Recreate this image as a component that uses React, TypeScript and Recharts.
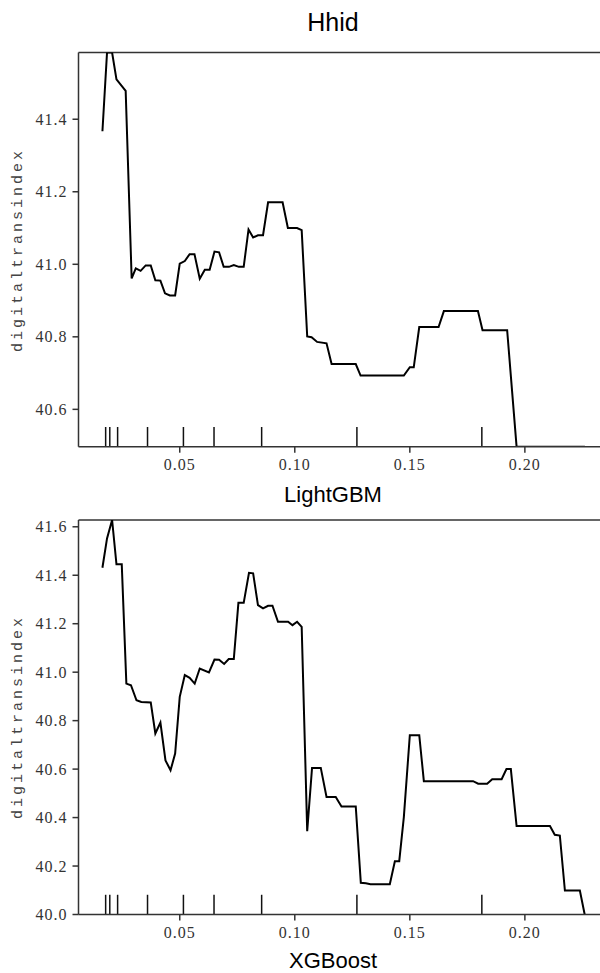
import React from 'react'
import { LineChart, Line, XAxis, YAxis, ReferenceLine } from 'recharts'

// x axis (shared by both panels)
const xTicks = [0.05, 0.1, 0.15, 0.2]
const xDomain = [0.006, 0.237]

// deciles of the feature, drawn as a rug
const deciles = [0.0178, 0.0196, 0.023, 0.036, 0.0516, 0.0649, 0.0856, 0.127, 0.1813]

// LightGBM partial dependence
const lgbmX = [
  0.0164, 0.0184, 0.0206, 0.0225, 0.0265, 0.0291, 0.0309, 0.033, 0.0352, 0.0374,
  0.0394, 0.0416, 0.0436, 0.0457, 0.048, 0.05, 0.0522, 0.0543, 0.0564, 0.0587,
  0.0609, 0.063, 0.0651, 0.0671, 0.0691, 0.0714, 0.0735, 0.0757, 0.0778, 0.0799,
  0.0819, 0.084, 0.0862, 0.0884, 0.0906, 0.0947, 0.097, 0.101, 0.103, 0.1054,
  0.1073, 0.1097, 0.1138, 0.116, 0.1265, 0.1286, 0.1474, 0.15, 0.1517, 0.1541,
  0.1625, 0.1648, 0.1796, 0.1816, 0.1923, 0.1964, 0.2261,
]
const lgbmY = [
  41.367, 41.584, 41.584, 41.51, 41.478, 40.961, 40.989, 40.982, 40.997, 40.997,
  40.956, 40.955, 40.92, 40.914, 40.914, 41.002, 41.009, 41.028, 41.028, 40.96,
  40.985, 40.985, 41.035, 41.033, 40.993, 40.993, 40.998, 40.993, 40.993, 41.096,
  41.074, 41.08, 41.08, 41.171, 41.171, 41.171, 41.1, 41.1, 41.094, 40.801,
  40.799, 40.786, 40.782, 40.725, 40.725, 40.693, 40.693, 40.716, 40.716, 40.827,
  40.827, 40.871, 40.871, 40.818, 40.818, 40.497, 40.497,
]
const lgbmTicks = [40.6, 40.8, 41.0, 41.2, 41.4]
const lgbmDomain = [40.497, 41.584]

// XGBoost partial dependence
const xgbX = [
  0.0164, 0.0184, 0.0206, 0.0225, 0.0248, 0.0268, 0.0288, 0.0312, 0.0333, 0.0374,
  0.0394, 0.0416, 0.0438, 0.046, 0.048, 0.05, 0.0522, 0.0543, 0.0565, 0.0587,
  0.0627, 0.0651, 0.0671, 0.0693, 0.0713, 0.0735, 0.0755, 0.0778, 0.0801, 0.0819,
  0.084, 0.0862, 0.0884, 0.0903, 0.0927, 0.0971, 0.099, 0.101, 0.103, 0.1054,
  0.1075, 0.1113, 0.1138, 0.1178, 0.1203, 0.1265, 0.1287, 0.1309, 0.1329, 0.1413,
  0.1435, 0.1454, 0.1474, 0.15, 0.1541, 0.1561, 0.1775, 0.1797, 0.1836, 0.1858,
  0.1899, 0.192, 0.1939, 0.1964, 0.2109, 0.213, 0.2152, 0.2174, 0.2239, 0.226,
]
const xgbY = [
  41.431, 41.552, 41.628, 41.445, 41.445, 40.953, 40.946, 40.884, 40.877, 40.875,
  40.747, 40.792, 40.636, 40.595, 40.664, 40.898, 40.988, 40.977, 40.953, 41.015,
  40.999, 41.052, 41.051, 41.034, 41.054, 41.054, 41.286, 41.286, 41.41, 41.408,
  41.277, 41.263, 41.274, 41.274, 41.208, 41.208, 41.194, 41.208, 41.187, 40.344,
  40.605, 40.605, 40.485, 40.485, 40.446, 40.446, 40.131, 40.129, 40.125, 40.125,
  40.22, 40.22, 40.402, 40.74, 40.74, 40.55, 40.55, 40.54, 40.54, 40.558,
  40.558, 40.6, 40.6, 40.365, 40.365, 40.329, 40.326, 40.099, 40.099, 40.0,
]
const xgbTicks = [40.0, 40.2, 40.4, 40.6, 40.8, 41.0, 41.2, 41.4, 41.6]
const xgbDomain = [40.0, 41.628]

const tickFont = { fontFamily: 'Liberation Serif', fontSize: 16, fill: '#333', letterSpacing: 1 }
const spine = { stroke: '#333', strokeWidth: 1.5 }

function PdpPanel({ xs, ys, yTicks, yDomain, marginTop, marginBottom }: any) {
  const data = xs.map((x: number, i: number) => ({ x, y: ys[i] }))
  const [lo, hi] = yDomain
  const rugTop = lo + (hi - lo) * 0.05
  return (
    <LineChart
      width={640}
      height={480}
      data={data}
      margin={{ top: marginTop, right: 30, bottom: marginBottom, left: 0 }}
    >
      <XAxis
        type="number"
        dataKey="x"
        domain={xDomain}
        ticks={xTicks}
        allowDataOverflow
        height={30}
        tickSize={6}
        tickMargin={6}
        tickFormatter={(v) => v.toFixed(2)}
        tick={tickFont}
        axisLine={spine}
        tickLine={spine}
      />
      <YAxis
        type="number"
        domain={yDomain}
        ticks={yTicks}
        allowDataOverflow
        width={78.5}
        tickSize={6}
        tickMargin={5}
        tickFormatter={(v) => v.toFixed(1)}
        tick={tickFont}
        axisLine={spine}
        tickLine={spine}
      />
      <ReferenceLine y={hi} stroke="#333" strokeWidth={1.5} />
      {deciles.map((d) => (
        <ReferenceLine
          key={d}
          segment={[{ x: d, y: lo }, { x: d, y: rugTop }]}
          stroke="#111"
          strokeWidth={1.5}
        />
      ))}
      <Line
        type="linear"
        dataKey="y"
        stroke="#000"
        strokeWidth={2}
        dot={false}
        isAnimationActive={false}
      />
    </LineChart>
  )
}

export default function App() {
  const labelFont = { fontFamily: 'Liberation Sans', fill: '#000' }
  const yLabel = { fontFamily: 'Liberation Mono', fontSize: 15, fill: '#444', letterSpacing: 3 }
  return (
    <div style={{ position: 'absolute', left: 0, top: 0, width: 600, height: 973, overflow: 'hidden', background: '#fff' }}>
      <div style={{ position: 'absolute', left: 0, top: 0 }}>
        <PdpPanel xs={lgbmX} ys={lgbmY} yTicks={lgbmTicks} yDomain={lgbmDomain} marginTop={52.5} marginBottom={3.3} />
      </div>
      <div style={{ position: 'absolute', left: 0, top: 480 }}>
        <PdpPanel xs={xgbX} ys={xgbY} yTicks={xgbTicks} yDomain={xgbDomain} marginTop={40} marginBottom={15.5} />
      </div>
      <svg width={600} height={973} style={{ position: 'absolute', left: 0, top: 0, pointerEvents: 'none' }}>
        <text x={333} y={31} textAnchor="middle" fontSize={25} {...labelFont}>Hhid</text>
        <text x={333} y={502} textAnchor="middle" fontSize={22} {...labelFont}>LightGBM</text>
        <text x={333} y={968} textAnchor="middle" fontSize={22} {...labelFont}>XGBoost</text>
        <text x={18} y={250} transform="rotate(-90 18 250)" textAnchor="middle" dominantBaseline="central" {...yLabel}>digitaltransindex</text>
        <text x={18} y={717} transform="rotate(-90 18 717)" textAnchor="middle" dominantBaseline="central" {...yLabel}>digitaltransindex</text>
      </svg>
    </div>
  )
}
